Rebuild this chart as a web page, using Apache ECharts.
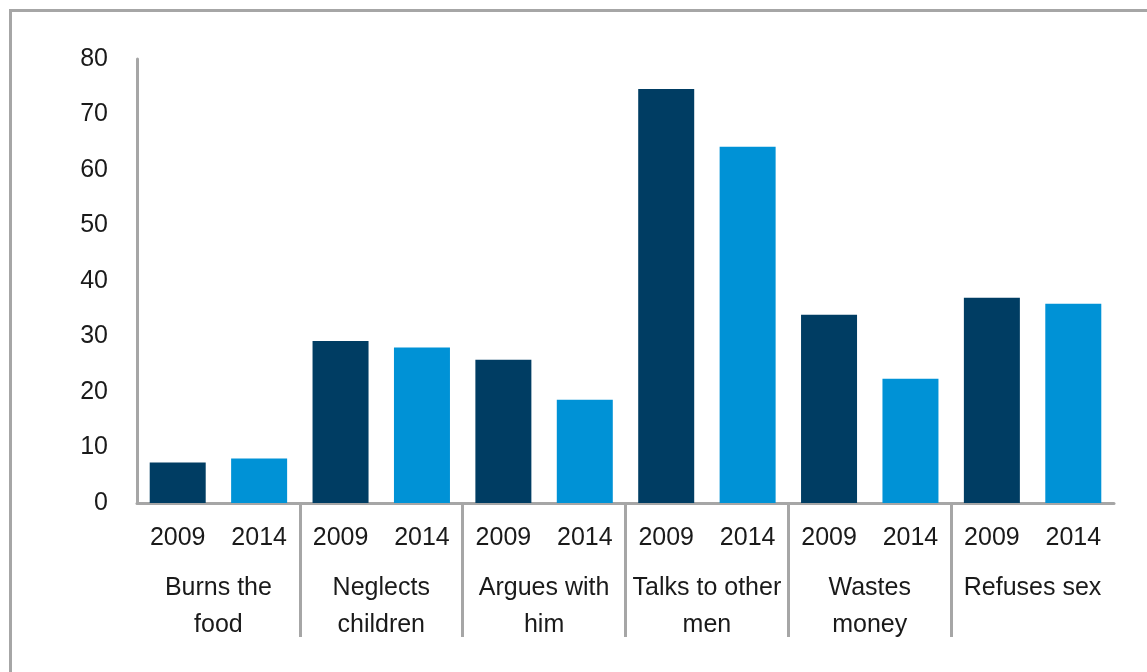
<!DOCTYPE html>
<html>
<head>
<meta charset="utf-8">
<script src="https://cdn.jsdelivr.net/npm/echarts@6/dist/echarts.min.js"></script>
<style>
  html, body { margin: 0; padding: 0; background: #fff; overflow: hidden; }
  #frame { position: absolute; left: 9px; top: 9px; width: 1300px; height: 800px;
           border: 3px solid #a6a6a6; box-sizing: border-box; }
  #chart { position: absolute; left: 0; top: 0; width: 1147px; height: 672px; }
</style>
</head>
<body>
<div id="frame"></div>
<div id="chart"></div>
<script>
// Reasons a husband is justified in hitting his wife (% agreeing), by survey year
const groups = ['Burns the\nfood', 'Neglects\nchildren', 'Argues with\nhim', 'Talks to other\nmen', 'Wastes\nmoney', 'Refuses sex'];
const years = ['2009', '2014'];
const values2009 = [7.3, 29.2, 25.8, 74.6, 33.9, 37.0];
const values2014 = [8.0, 28.0, 18.6, 64.2, 22.4, 35.9];
const yTicks = { min: 0, max: 80, interval: 10 };

// one inner category per (group, year)
const yearCats = [];
groups.forEach(() => years.forEach(y => yearCats.push(y)));
const s2009 = [], s2014 = [];
groups.forEach((g, i) => {
  s2009.push(values2009[i], '-');
  s2014.push('-', values2014[i]);
});

const grey = '#a6a6a6';
const textColor = '#1a1a1a';
const font = '"Liberation Sans", Arial, sans-serif';

const chart = echarts.init(document.getElementById('chart'), null, { renderer: 'canvas' });
chart.setOption({
  animation: false,
  textStyle: { fontFamily: font },
  grid: [
    { left: 137, right: 33, top: 59, bottom: 169 },
    { left: 137, right: 33, top: 503, height: 134 }
  ],
  xAxis: [
    {
      type: 'category', gridIndex: 0, data: yearCats,
      axisLine: { lineStyle: { color: grey, width: 3 } },
      axisTick: { show: false },
      axisLabel: { fontSize: 25, color: textColor, margin: 23, fontFamily: font, interval: 0 }
    },
    {
      type: 'category', gridIndex: 1, position: 'top', data: groups,
      axisLine: { show: false },
      axisTick: { show: false },
      splitLine: { show: true, showMinLine: false, showMaxLine: false,
                   lineStyle: { color: grey, width: 3 } },
      axisLabel: { inside: true, fontSize: 25, lineHeight: 37, color: textColor,
                   margin: 67, fontFamily: font, interval: 0 }
    }
  ],
  yAxis: [
    {
      type: 'value', gridIndex: 0, min: yTicks.min, max: yTicks.max, interval: yTicks.interval,
      axisLine: { show: true, lineStyle: { color: grey, width: 3 } },
      axisTick: { show: false },
      splitLine: { show: false },
      axisLabel: { fontSize: 25, color: textColor, margin: 29, fontFamily: font }
    },
    { type: 'value', gridIndex: 1, show: false }
  ],
  series: [
    { name: years[0], type: 'bar', xAxisIndex: 0, yAxisIndex: 0, data: s2009,
      barWidth: 56, barGap: '-100%', itemStyle: { color: '#003d63' } },
    { name: years[1], type: 'bar', xAxisIndex: 0, yAxisIndex: 0, data: s2014,
      barWidth: 56, barGap: '-100%', itemStyle: { color: '#0092d6' } }
  ]
});
</script>
</body>
</html>
